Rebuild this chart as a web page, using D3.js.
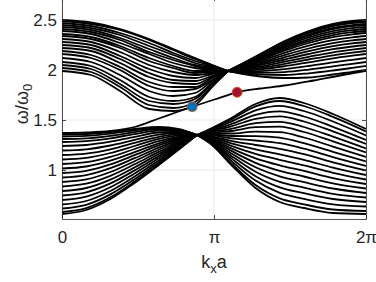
<!DOCTYPE html>
<meta charset="utf-8">
<style>
body { margin: 0; background: #fff; }
svg text { font-family: "Liberation Sans", Arial, Helvetica, sans-serif; fill: #262626; }
.grid line { stroke: #e2e2e2; stroke-width: 0.8; }
.band { fill: none; stroke: #000; stroke-width: 1.8; stroke-linejoin: round; }
.axis path, .axis line { stroke: #262626; stroke-width: 0.8; }
</style>
<body>
<svg id="chart" width="376" height="282"></svg>
<script src="https://cdn.jsdelivr.net/npm/d3@7"></script>
<script>
const xTicks = [0, Math.PI, 2 * Math.PI]
const xTickLabels = ['0', 'π', '2π']
const yTicks = [1, 1.5, 2, 2.5]
const yTickLabels = ['1', '1.5', '2', '2.5']

// upper bands, left of the upper crossing
const kUpperLeft = [0, 0.6, 1.2, 1.8, 2.3, 2.75, 3.1, 3.43]
const upperLeft = [
  [2.50, 2.475, 2.41, 2.31, 2.21, 2.12, 2.05, 1.99],
  [2.49, 2.46, 2.40, 2.30, 2.20, 2.11, 2.05, 1.99],
  [2.47, 2.44, 2.37, 2.27, 2.17, 2.09, 2.04, 1.99],
  [2.45, 2.42, 2.35, 2.24, 2.15, 2.07, 2.03, 1.99],
  [2.43, 2.40, 2.32, 2.21, 2.12, 2.05, 2.02, 1.99],
  [2.41, 2.38, 2.30, 2.18, 2.10, 2.04, 2.01, 1.99],
  [2.39, 2.36, 2.27, 2.16, 2.07, 2.02, 2.00, 1.99],
  [2.36, 2.33, 2.24, 2.12, 2.04, 1.99, 1.99, 1.99],
  [2.34, 2.31, 2.22, 2.09, 2.02, 1.97, 1.98, 1.99],
  [2.31, 2.28, 2.18, 2.05, 1.98, 1.95, 1.97, 1.99],
  [2.28, 2.25, 2.14, 2.01, 1.94, 1.92, 1.96, 1.99],
  [2.25, 2.22, 2.11, 1.97, 1.90, 1.89, 1.94, 1.99],
  [2.22, 2.19, 2.07, 1.93, 1.87, 1.86, 1.93, 1.99],
  [2.19, 2.15, 2.03, 1.88, 1.83, 1.83, 1.92, 1.99],
  [2.16, 2.12, 2.00, 1.84, 1.79, 1.81, 1.90, 1.99],
  [2.12, 2.08, 1.95, 1.79, 1.74, 1.77, 1.89, 1.99],
  [2.08, 2.04, 1.90, 1.73, 1.69, 1.73, 1.87, 1.99],
  [2.05, 2.01, 1.86, 1.69, 1.66, 1.71, 1.86, 1.99],
  [2.02, 1.98, 1.83, 1.65, 1.62, 1.68, 1.84, 1.99],
  [1.99, 1.95, 1.79, 1.61, 1.59, 1.65, 1.83, 1.99]
]

// upper bands, right of the upper crossing
const kUpperRight = [3.43, 3.75, 4.1, 4.6, 5.1, 5.6, 6.0, 2 * Math.PI]
const upperRight = [
  [1.99, 2.07, 2.16, 2.29, 2.39, 2.46, 2.49, 2.50],
  [1.99, 2.068, 2.156, 2.283, 2.381, 2.45, 2.48, 2.49],
  [1.99, 2.066, 2.151, 2.275, 2.372, 2.44, 2.47, 2.48],
  [1.99, 2.061, 2.142, 2.26, 2.353, 2.42, 2.449, 2.46],
  [1.99, 2.059, 2.138, 2.253, 2.344, 2.41, 2.439, 2.45],
  [1.99, 2.055, 2.129, 2.238, 2.326, 2.389, 2.419, 2.43],
  [1.99, 2.05, 2.12, 2.223, 2.307, 2.369, 2.398, 2.41],
  [1.99, 2.046, 2.111, 2.209, 2.289, 2.349, 2.378, 2.39],
  [1.99, 2.041, 2.102, 2.194, 2.27, 2.329, 2.357, 2.37],
  [1.99, 2.035, 2.088, 2.172, 2.243, 2.298, 2.327, 2.34],
  [1.99, 2.028, 2.075, 2.149, 2.215, 2.268, 2.296, 2.31],
  [1.99, 2.022, 2.061, 2.127, 2.188, 2.238, 2.266, 2.28],
  [1.99, 2.015, 2.048, 2.105, 2.16, 2.208, 2.235, 2.25],
  [1.99, 2.008, 2.034, 2.083, 2.132, 2.177, 2.204, 2.22],
  [1.99, 2.002, 2.021, 2.061, 2.105, 2.147, 2.174, 2.19],
  [1.99, 1.995, 2.007, 2.038, 2.077, 2.117, 2.143, 2.16],
  [1.99, 1.986, 1.989, 2.009, 2.04, 2.076, 2.102, 2.12],
  [1.99, 1.978, 1.971, 1.979, 2.004, 2.036, 2.062, 2.08],
  [1.99, 1.969, 1.953, 1.95, 1.967, 1.995, 2.021, 2.04],
  [1.99, 1.96, 1.935, 1.92, 1.925, 1.955, 1.98, 2.00]
]

// lower bands, left of the lower crossing
const kLowerLeft = [0, 0.5, 1.0, 1.5, 2.0, 2.4, 2.79]
const lowerLeft = [
  [1.355, 1.36, 1.38, 1.41, 1.43, 1.41, 1.35],
  [1.335, 1.341, 1.363, 1.397, 1.42, 1.405, 1.35],
  [1.31, 1.317, 1.342, 1.379, 1.408, 1.398, 1.35],
  [1.28, 1.289, 1.317, 1.359, 1.394, 1.39, 1.35],
  [1.24, 1.25, 1.283, 1.332, 1.375, 1.38, 1.35],
  [1.195, 1.207, 1.245, 1.301, 1.354, 1.368, 1.35],
  [1.15, 1.164, 1.207, 1.271, 1.332, 1.356, 1.35],
  [1.105, 1.121, 1.17, 1.24, 1.311, 1.344, 1.35],
  [1.06, 1.078, 1.131, 1.21, 1.289, 1.332, 1.35],
  [1.015, 1.035, 1.093, 1.179, 1.267, 1.32, 1.35],
  [0.97, 0.992, 1.056, 1.149, 1.246, 1.308, 1.35],
  [0.925, 0.949, 1.018, 1.118, 1.224, 1.296, 1.35],
  [0.88, 0.906, 0.98, 1.088, 1.203, 1.285, 1.35],
  [0.835, 0.863, 0.942, 1.057, 1.181, 1.273, 1.35],
  [0.79, 0.82, 0.904, 1.026, 1.16, 1.261, 1.35],
  [0.745, 0.777, 0.866, 0.996, 1.139, 1.249, 1.35],
  [0.70, 0.734, 0.828, 0.965, 1.117, 1.237, 1.35],
  [0.655, 0.69, 0.79, 0.934, 1.095, 1.225, 1.35],
  [0.615, 0.652, 0.756, 0.907, 1.076, 1.214, 1.35],
  [0.58, 0.619, 0.727, 0.884, 1.06, 1.205, 1.35],
  [0.56, 0.60, 0.71, 0.87, 1.05, 1.20, 1.35]
]

// lower bands, right of the lower crossing
const kLowerRight = [2.79, 3.1, 3.5, 4.0, 4.5, 5.0, 5.6, 2 * Math.PI]
const lowerRight = [
  [1.35, 1.42, 1.52, 1.66, 1.72, 1.67, 1.56, 1.41],
  [1.35, 1.415, 1.506, 1.636, 1.69, 1.64, 1.531, 1.385],
  [1.35, 1.407, 1.484, 1.596, 1.641, 1.59, 1.485, 1.345],
  [1.35, 1.398, 1.459, 1.552, 1.586, 1.535, 1.432, 1.30],
  [1.35, 1.39, 1.437, 1.512, 1.537, 1.485, 1.386, 1.26],
  [1.35, 1.381, 1.412, 1.468, 1.482, 1.43, 1.333, 1.215],
  [1.35, 1.373, 1.39, 1.428, 1.433, 1.38, 1.287, 1.175],
  [1.35, 1.364, 1.365, 1.384, 1.378, 1.325, 1.234, 1.13],
  [1.35, 1.355, 1.34, 1.339, 1.323, 1.269, 1.182, 1.085],
  [1.35, 1.346, 1.316, 1.295, 1.268, 1.213, 1.129, 1.04],
  [1.35, 1.337, 1.291, 1.25, 1.212, 1.158, 1.077, 0.995],
  [1.35, 1.328, 1.266, 1.206, 1.157, 1.102, 1.024, 0.95],
  [1.35, 1.319, 1.241, 1.161, 1.102, 1.046, 0.972, 0.905],
  [1.35, 1.31, 1.216, 1.117, 1.047, 0.991, 0.919, 0.86],
  [1.35, 1.301, 1.191, 1.072, 0.992, 0.935, 0.867, 0.815],
  [1.35, 1.292, 1.166, 1.027, 0.937, 0.879, 0.815, 0.77],
  [1.35, 1.283, 1.141, 0.983, 0.882, 0.824, 0.762, 0.725],
  [1.35, 1.274, 1.116, 0.938, 0.827, 0.768, 0.71, 0.68],
  [1.35, 1.265, 1.091, 0.894, 0.772, 0.712, 0.657, 0.635],
  [1.35, 1.256, 1.066, 0.849, 0.716, 0.657, 0.605, 0.59],
  [1.35, 1.25, 1.05, 0.82, 0.68, 0.62, 0.57, 0.56]
]

// edge state crossing the gap
const edgeK = [0, 0.5, 1.0, 1.5, 2.0, 2.35, 2.69, 3.15, 3.62, 4.1, 4.6, 5.2, 5.8, 2 * Math.PI]
const edgeW = [1.37, 1.375, 1.39, 1.43, 1.515, 1.575, 1.633, 1.705, 1.777, 1.815, 1.845, 1.895, 1.95, 1.99]

// marked points
const dotK = [2.69, 3.62]
const dotW = [1.633, 1.777]
const dotColors = ['#0072BD', '#A2142F']

const svg = d3.select('#chart')
const [x0, x1, yTop, yBot] = [62, 366, -3, 219]

const x = d3.scaleLinear().domain([0, 2 * Math.PI]).range([x0, x1])
const y = d3.scaleLinear().domain([0.51, 2.73]).range([yBot, yTop])

svg.append('defs').append('clipPath').attr('id', 'clip')
  .append('rect')
    .attr('x', x0).attr('y', yTop)
    .attr('width', x1 - x0).attr('height', yBot - yTop)

// grid
const grid = svg.append('g').attr('class', 'grid')
grid.selectAll('.gy').data(yTicks).enter().append('line')
    .attr('x1', x0).attr('x2', x1)
    .attr('y1', d => y(d)).attr('y2', d => y(d))
grid.selectAll('.gx').data(xTicks).enter().append('line')
    .attr('y1', yTop).attr('y2', yBot)
    .attr('x1', d => x(d)).attr('x2', d => x(d))

const line = d3.line()
    .x(d => x(d[0]))
    .y(d => y(d[1]))
    .curve(d3.curveMonotoneX)

const plot = svg.append('g').attr('clip-path', 'url(#clip)')

const pieces = [
  [kUpperLeft, upperLeft], [kUpperRight, upperRight],
  [kLowerLeft, lowerLeft], [kLowerRight, lowerRight]
]
pieces.forEach(([ks, rows]) => {
  plot.append('g').selectAll('path')
      .data(rows)
    .enter().append('path')
      .attr('class', 'band')
      .attr('d', r => line(d3.zip(ks, r)))
})

plot.append('path')
    .attr('class', 'band')
    .attr('d', line(d3.zip(edgeK, edgeW)))

plot.selectAll('circle')
    .data(d3.zip(dotK, dotW, dotColors))
  .enter().append('circle')
    .attr('cx', d => x(d[0]))
    .attr('cy', d => y(d[1]))
    .attr('r', 5)
    .attr('fill', d => d[2])
    .attr('stroke', '#D95319')
    .attr('stroke-width', 0.9)

// axes
const font = '"Liberation Sans", Arial, Helvetica, sans-serif'

svg.append('g').attr('class', 'axis')
    .attr('transform', `translate(0,${yBot})`)
    .call(d3.axisBottom(x).tickValues(xTicks)
      .tickFormat((d, i) => xTickLabels[i])
      .tickSize(-4).tickSizeOuter(0).tickPadding(12))
    .attr('font-size', 17).attr('font-family', font)

svg.append('g').attr('class', 'axis')
    .attr('transform', `translate(${x0},0)`)
    .call(d3.axisLeft(y).tickValues(yTicks)
      .tickFormat((d, i) => yTickLabels[i])
      .tickSize(-4).tickSizeOuter(0).tickPadding(5))
    .attr('font-size', 17).attr('font-family', font)

svg.append('g').attr('class', 'axis')
    .attr('transform', `translate(${x1},0)`)
    .call(d3.axisRight(y).tickValues(yTicks).tickFormat('')
      .tickSize(-4).tickSizeOuter(0))

svg.append('g').attr('class', 'axis')
    .attr('transform', `translate(0,${yTop})`)
    .call(d3.axisTop(x).tickValues(xTicks).tickFormat('')
      .tickSize(-4).tickSizeOuter(0))

svg.selectAll('.axis text').attr('fill', '#262626')

// labels
const xl = svg.append('text')
    .attr('x', 214).attr('y', 268)
    .attr('text-anchor', 'middle')
    .attr('font-size', 18)
xl.append('tspan').text('k')
xl.append('tspan').attr('dy', 5).attr('font-size', 13).text('x')
xl.append('tspan').attr('dy', -5).text('a')

const yl = svg.append('text')
    .attr('transform', 'translate(28,104) rotate(-90)')
    .attr('text-anchor', 'middle')
    .attr('font-size', 18)
yl.append('tspan').text('ω/ω')
yl.append('tspan').attr('dy', 4).attr('font-size', 13).text('0')
</script>
</body>
